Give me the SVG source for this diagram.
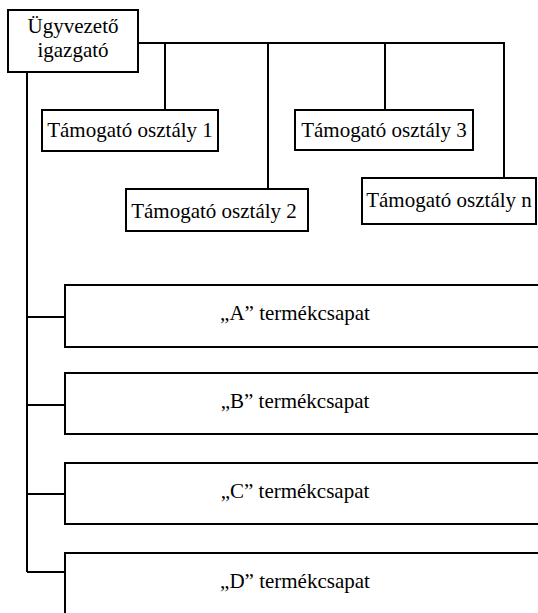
<svg xmlns="http://www.w3.org/2000/svg" width="538" height="613" viewBox="0 0 538 613">
<style>
rect{fill:#fff;stroke:#000;stroke-width:2}
.c line{stroke:#000;stroke-width:2}
text{font-family:'Liberation Serif','Times New Roman',serif;font-size:21px;fill:#000;text-anchor:middle}
</style>
<rect width="538" height="613" style="stroke:none"/>
<g class="c" id="connectors">
<line x1="138" y1="43" x2="505" y2="43"/>
<line x1="165" y1="43" x2="165" y2="110"/>
<line x1="268" y1="43" x2="268" y2="189"/>
<line x1="385" y1="43" x2="385" y2="110"/>
<line x1="504" y1="43" x2="504" y2="178"/>
<line x1="27" y1="72" x2="27" y2="572"/>
<line x1="27" y1="317" x2="65" y2="317"/>
<line x1="27" y1="405" x2="65" y2="405"/>
<line x1="27" y1="494" x2="65" y2="494"/>
<line x1="27" y1="572" x2="65" y2="572"/>
</g>
<g id="ceo"><rect x="8" y="10" width="130" height="62"/><text x="73" y="33">Ügyvezető</text><text x="73" y="57">igazgató</text></g>
<g id="support1"><rect x="42" y="110" width="176" height="41"/><text x="130" y="137">Támogató osztály 1</text></g>
<g id="support2"><rect x="126" y="189" width="182" height="42"/><text x="214" y="218">Támogató osztály 2</text></g>
<g id="support3"><rect x="295" y="110" width="178" height="40"/><text x="384" y="137">Támogató osztály 3</text></g>
<g id="supportn"><rect x="362" y="178" width="174" height="46"/><text x="449" y="207">Támogató osztály n</text></g>
<g id="teamA"><rect x="65" y="285" width="480" height="62"/><text x="295" y="320">„A” termékcsapat</text></g>
<g id="teamB"><rect x="65" y="373" width="480" height="61"/><text x="295" y="408">„B” termékcsapat</text></g>
<g id="teamC"><rect x="65" y="463" width="480" height="61"/><text x="295" y="498">„C” termékcsapat</text></g>
<g id="teamD"><rect x="65" y="553" width="480" height="70"/><text x="295" y="588">„D” termékcsapat</text></g>
</svg>
